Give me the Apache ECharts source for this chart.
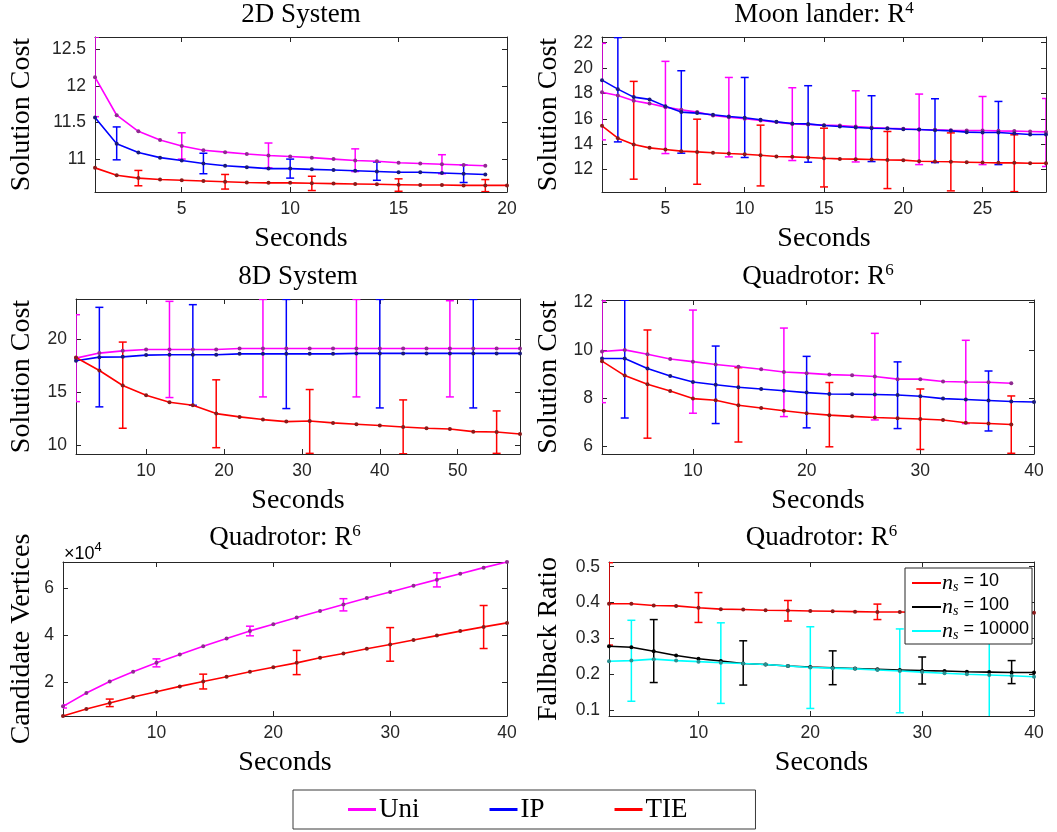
<!DOCTYPE html>
<html><head><meta charset="utf-8">
<script src="https://cdn.jsdelivr.net/npm/echarts@6/dist/echarts.min.js"></script>
<style>html,body{margin:0;padding:0;background:#fff}#c{width:1057px;height:832px}</style>
</head><body><div id="c"></div>
<script>
// ---------- 2D System ----------
const sec2D = [1,2,3,4,5,6,7,8,9,10,11,12,13,14,15,16,17,18,19,20];
const uni2D = [12.12,11.60,11.38,11.26,11.18,11.12,11.095,11.07,11.05,11.035,11.02,11.00,10.98,10.97,10.95,10.94,10.93,10.92,10.91];
const ip2D  = [11.57,11.21,11.09,11.02,10.98,10.94,10.91,10.89,10.87,10.87,10.86,10.85,10.84,10.83,10.82,10.82,10.81,10.80,10.79];
const tie2D = [10.88,10.78,10.74,10.72,10.71,10.70,10.69,10.68,10.675,10.675,10.67,10.665,10.66,10.655,10.65,10.645,10.645,10.64,10.64,10.64];
const uni2DErrX = [1,5,9,13,17],   uni2DLo = [11.58,11.00,10.88,10.83,10.80], uni2DHi = [12.67,11.36,11.22,11.14,11.06];
const ip2DErrX  = [2,6,10,14,18],  ip2DLo  = [10.99,10.80,10.74,10.71,10.68], ip2DHi  = [11.44,11.08,11.00,10.96,10.92];
const tie2DErrX = [3,7,11,15,19],  tie2DLo = [10.635,10.59,10.57,10.56,10.555], tie2DHi = [10.845,10.79,10.765,10.73,10.72];

// ---------- Moon lander ----------
const secML = [1,2,3,4,5,6,7,8,9,10,11,12,13,14,15,16,17,18,19,20,21,22,23,24,25,26,27,28,29];
const uniML = [18.10,17.84,17.42,17.20,16.92,16.71,16.53,16.26,16.13,16.00,15.87,15.74,15.60,15.55,15.50,15.47,15.39,15.32,15.26,15.21,15.16,15.13,15.10,15.08,15.08,15.05,15.03,15.00,14.97];
const ipML  = [19.05,18.34,17.71,17.53,17.00,16.53,16.45,16.32,16.18,16.08,15.92,15.76,15.63,15.60,15.47,15.39,15.32,15.26,15.24,15.18,15.16,15.10,15.05,14.95,14.92,14.92,14.84,14.76,14.76];
const tieML = [15.45,14.47,13.97,13.71,13.58,13.45,13.39,13.32,13.26,13.21,13.13,13.03,13.00,12.95,12.89,12.84,12.82,12.79,12.76,12.74,12.66,12.63,12.61,12.58,12.55,12.53,12.53,12.50,12.50];
const uniMLErrX = [1,5,9,13,17,21,25,29],  uniMLLo = [14.34,13.26,13.00,12.71,12.60,12.39,12.39,12.24], uniMLHi = [21.95,20.53,19.26,18.45,18.21,17.95,17.76,17.60];
const ipMLErrX  = [2,6,10,14,18,22,26],    ipMLLo  = [14.18,13.29,12.95,12.58,12.63,12.55,12.39],       ipMLHi  = [22.40,19.79,19.26,18.61,17.82,17.58,17.37];
const tieMLErrX = [3,7,11,15,19,23,27],    tieMLLo = [11.24,10.84,10.71,10.63,10.50,10.32,10.26],       tieMLHi = [18.95,15.97,15.50,15.26,15.00,14.89,14.74];

// ---------- 8D System ----------
const sec8D = [1,4,7,10,13,16,19,22,25,28,31,34,37,40,43,46,49,52,55,58];
const uni8D = [18.19,18.66,18.87,19.00,19.00,19.00,19.00,19.09,19.09,19.09,19.09,19.09,19.09,19.09,19.09,19.09,19.09,19.09,19.09,19.09];
const ip8D  = [17.94,18.28,18.31,18.47,18.50,18.50,18.50,18.59,18.59,18.59,18.59,18.59,18.63,18.63,18.63,18.63,18.63,18.63,18.63,18.63];
const tie8D = [18.25,17.03,15.63,14.72,14.06,13.78,13.00,12.69,12.44,12.25,12.31,12.13,12.00,11.88,11.75,11.63,11.56,11.31,11.28,11.09];
const uni8DErrX = [1,13,25,37,49],  uni8DLo = [14.12,14.50,14.56,14.56,14.56], uni8DHi = [22.25,23.50,23.68,23.68,23.56];
const ip8DErrX  = [4,16,28,40,52],  ip8DLo  = [13.63,13.78,13.47,13.53,13.53], ip8DHi  = [22.94,23.19,23.68,23.68,23.68];
const tie8DErrX = [7,19,31,43,55],  tie8DLo = [11.63,9.81,9.28,9.24,9.28],     tie8DHi = [19.69,16.16,15.25,14.28,13.25];

// ---------- Quadrotor cost ----------
const secQ  = [2,4,6,8,10,12,14,16,18,20,22,24,26,28,30,32,34,36,38,40];
const uniQ  = [9.96,10.03,9.85,9.65,9.54,9.42,9.33,9.22,9.11,9.06,9.00,8.97,8.92,8.81,8.81,8.71,8.69,8.68,8.64];
const ipQ   = [9.67,9.67,9.25,8.94,8.69,8.58,8.47,8.40,8.33,8.25,8.19,8.18,8.17,8.15,8.10,8.00,7.96,7.92,7.88,7.86];
const tieQ  = [9.56,8.96,8.60,8.32,8.00,7.93,7.72,7.61,7.49,7.39,7.31,7.26,7.21,7.18,7.15,7.11,6.99,6.96,6.92];
const uniQErrX = [2,10,18,26,34],  uniQLo = [7.83,7.39,7.25,7.11,6.96], uniQHi = [12.07,11.69,10.94,10.72,10.43];
const ipQErrX  = [4,12,20,28,36],  ipQLo  = [7.19,6.96,6.78,6.75,6.65], ipQHi  = [12.10,10.19,9.76,9.53,9.15];
const tieQErrX = [6,14,22,30,38],  tieQLo = [6.35,6.19,5.99,5.88,5.72], tieQHi = [10.86,9.29,8.67,8.40,8.11];

// ---------- Quadrotor candidate vertices ----------
const secV  = [2,4,6,8,10,12,14,16,18,20,22,24,26,28,30,32,34,36,38,40];
const uniV  = [9800,15500,20400,24500,28300,31900,35400,38700,41900,44700,47600,50400,53100,55900,58400,61100,63700,66200,68800,71200];
const tieV  = [5700,8700,11200,13800,16000,18300,20400,22400,24500,26400,28300,30500,32300,34300,36100,38000,39900,41800,43600,45300];
const uniVErrX = [2,10,18,26,34], uniVLo = [9100,26600,39800,50400,60600], uniVHi = [10500,30000,43900,55600,66600];
const tieVErrX = [6,14,22,30,38], tieVLo = [9700,17200,23300,29000,34400], tieVHi = [12900,23500,33600,43300,52700];

// ---------- Quadrotor fallback ratio ----------
const secF   = [2,4,6,8,10,12,14,16,18,20,22,24,26,28,30,32,34,36,38,40];
const fb10   = [0.397,0.397,0.392,0.391,0.386,0.382,0.381,0.379,0.378,0.377,0.376,0.375,0.374,0.374,0.373,0.373,0.372,0.372,0.372,0.372];
const fb100  = [0.279,0.276,0.265,0.253,0.244,0.238,0.231,0.228,0.224,0.221,0.219,0.217,0.215,0.213,0.211,0.210,0.208,0.207,0.206,0.206];
const fb10000= [0.237,0.239,0.243,0.239,0.236,0.233,0.231,0.228,0.224,0.220,0.218,0.216,0.213,0.210,0.207,0.204,0.201,0.199,0.197,0.194];
const fb10ErrX = [2,10,18,26,34],    fb10Lo = [0.282,0.345,0.349,0.353,0.352],    fb10Hi = [0.511,0.428,0.406,0.396,0.392];
const fb100ErrX = [6,14,22,30,38],   fb100Lo = [0.178,0.171,0.172,0.174,0.175],   fb100Hi = [0.353,0.294,0.266,0.249,0.239];
const fb10000ErrX = [4,12,20,28,36], fb10000Lo = [0.126,0.120,0.106,0.094,0.080], fb10000Hi = [0.351,0.344,0.333,0.327,0.320];

// ---------- labels ----------
const legendNames = ['Uni','IP','TIE'];
const nsNames = ['10','100','10000'];

// ---------- styling ----------
const C = {uni:'#ff00ff', ip:'#0000ff', tie:'#ff0000', k:'#000000', cy:'#00ffff'};
const DOT = {uni:'#8f2a8f', ip:'#1a1a7a', tie:'#8a1a1a', k:'#000000', cy:'#2a8f8f'};
const SERIF = '"Liberation Serif", "Times New Roman", serif';
const SANS = '"Liberation Sans", Arial, Helvetica, sans-serif';
const AX = '#262626';

function S(name, xs, ys, key, ex, lo, hi){ return {name, xs, ys, key, ex, lo, hi}; }

const panels = [
  {grid:{left:95,top:37,width:412,height:155}, title:'2D System', tTop:0,
   xMin:1,xMax:20,xInt:5, yMin:10.55,yMax:12.67,yInt:0.5, yName:'Solution Cost', yGap:59,
   series:[S('Uni',sec2D,uni2D,'uni',uni2DErrX,uni2DLo,uni2DHi), S('IP',sec2D,ip2D,'ip',ip2DErrX,ip2DLo,ip2DHi), S('TIE',sec2D,tie2D,'tie',tie2DErrX,tie2DLo,tie2DHi)]},
  {grid:{left:602,top:37,width:444,height:155}, title:'Moon lander: R', sup:'4', tTop:0,
   xMin:1,xMax:29,xInt:5, yMin:10.23,yMax:22.45,yInt:2, yName:'Solution Cost', yGap:39,
   series:[S('Uni',secML,uniML,'uni',uniMLErrX,uniMLLo,uniMLHi), S('IP',secML,ipML,'ip',ipMLErrX,ipMLLo,ipMLHi), S('TIE',secML,tieML,'tie',tieMLErrX,tieMLLo,tieMLHi)]},
  {grid:{left:76,top:299,width:444,height:155}, title:'8D System', tTop:262,
   xMin:1,xMax:58,xInt:10, yMin:9.22,yMax:23.72,yInt:5, yName:'Solution Cost', yGap:40,
   series:[S('Uni',sec8D,uni8D,'uni',uni8DErrX,uni8DLo,uni8DHi), S('IP',sec8D,ip8D,'ip',ip8DErrX,ip8DLo,ip8DHi), S('TIE',sec8D,tie8D,'tie',tie8DErrX,tie8DLo,tie8DHi)]},
  {grid:{left:602,top:300,width:432,height:154}, title:'Quadrotor: R', sup:'6', tTop:262,
   xMin:2,xMax:40,xInt:10, yMin:5.69,yMax:12.11,yInt:2, yName:'Solution Cost', yGap:39,
   series:[S('Uni',secQ,uniQ,'uni',uniQErrX,uniQLo,uniQHi), S('IP',secQ,ipQ,'ip',ipQErrX,ipQLo,ipQHi), S('TIE',secQ,tieQ,'tie',tieQErrX,tieQLo,tieQHi)]},
  {grid:{left:63,top:562,width:444,height:154}, title:'Quadrotor: R', sup:'6', tTop:523,
   xMin:2,xMax:40,xInt:10, yMin:5700,yMax:71200,yInt:20000, yName:'Candidate Vertices', yGap:27, yScale:1e4,
   series:[S('Uni',secV,uniV,'uni',uniVErrX,uniVLo,uniVHi), S('TIE',secV,tieV,'tie',tieVErrX,tieVLo,tieVHi)]},
  {grid:{left:609,top:562,width:425,height:154}, title:'Quadrotor: R', sup:'6', tTop:523,
   xMin:2,xMax:40,xInt:10, yMin:0.085,yMax:0.513,yInt:0.1, yName:'Fallback Ratio', yGap:46,
   series:[S('ns10',secF,fb10,'tie',fb10ErrX,fb10Lo,fb10Hi), S('ns100',secF,fb100,'k',fb100ErrX,fb100Lo,fb100Hi), S('ns10000',secF,fb10000,'cy',fb10000ErrX,fb10000Lo,fb10000Hi)]}
];

function isMul(v, step){ const r = v/step; return Math.abs(r-Math.round(r)) < 1e-6; }

function errRender(color){
  return function(params, api){
    const x = api.value(0), lo = api.value(1), hi = api.value(2);
    const a = api.coord([x, lo]), b = api.coord([x, hi]);
    const w = 4;
    const st = {stroke:color, lineWidth:1.5, fill:null};
    return {type:'group', children:[
      {type:'line', shape:{x1:a[0],y1:a[1],x2:b[0],y2:b[1]}, style:st},
      {type:'line', shape:{x1:a[0]-w,y1:a[1],x2:a[0]+w,y2:a[1]}, style:st},
      {type:'line', shape:{x1:b[0]-w,y1:b[1],x2:b[0]+w,y2:b[1]}, style:st}
    ]};
  };
}

const grids=[], xAxes=[], yAxes=[], series=[], titles=[];
const titleRich = {
  t:{fontFamily:SERIF, fontSize:27, color:'#000', lineHeight:30, verticalAlign:'middle'},
  sup:{fontFamily:SERIF, fontSize:17, color:'#000', lineHeight:17, verticalAlign:'top'}
};

panels.forEach((p, i) => {
  grids.push(Object.assign({outerBoundsMode:'none', containLabel:false}, p.grid));
  const cx = p.grid.left + p.grid.width/2;
  titles.push({
    text: p.sup ? '{t|'+p.title+'}{sup|'+p.sup+'}' : '{t|'+p.title+'}',
    left: cx, top: p.tTop, textAlign:'center', padding:0,
    textStyle:{rich:titleRich, fontFamily:SERIF, fontSize:27, fontWeight:'normal', color:'#000'}
  });
  const common = {
    type:'value', gridIndex:i, splitLine:{show:false},
    axisLine:{show:true, onZero:false, lineStyle:{color:AX, width:1}},
    axisTick:{show:true, inside:true, length:5, lineStyle:{color:AX, width:1}},
    minorTick:{show:false}
  };
  const xBase = Object.assign({}, common, {min:p.xMin, max:p.xMax, minInterval:p.xInt, maxInterval:p.xInt});
  const yBase = Object.assign({}, common, {min:p.yMin, max:p.yMax, minInterval:p.yInt, maxInterval:p.yInt});
  xAxes.push(Object.assign({}, xBase, {
    position:'bottom',
    name:'Seconds', nameLocation:'middle', nameGap:33,
    nameTextStyle:{fontFamily:SERIF, fontSize:28, color:'#000'},
    axisLabel:{show:true, margin:8, fontFamily:SANS, fontSize:17.5, color:AX,
      showMinLabel:isMul(p.xMin,p.xInt), showMaxLabel:isMul(p.xMax,p.xInt)}
  }));
  xAxes.push(Object.assign({}, xBase, {position:'top', axisLabel:{show:false}}));
  yAxes.push(Object.assign({}, yBase, {
    position:'left',
    name:p.yName, nameLocation:'middle', nameGap:p.yGap, nameRotate:90,
    nameTextStyle:{fontFamily:SERIF, fontSize:28, color:'#000'},
    axisLabel:{show:true, margin:9, fontFamily:SANS, fontSize:17.5, color:AX,
      showMinLabel:isMul(p.yMin,p.yInt), showMaxLabel:isMul(p.yMax,p.yInt),
      formatter: p.yScale ? (v => String(Math.round(v/p.yScale*100)/100)) : null}
  }));
  yAxes.push(Object.assign({}, yBase, {position:'right', axisLabel:{show:false}}));

  p.series.forEach(s => {
    series.push({
      type:'line', name:s.name, xAxisIndex:2*i, yAxisIndex:2*i,
      data: s.ys.map((v,k) => [s.xs[k], v]),
      symbol:'circle', symbolSize:4, showSymbol:true, clip:true,
      lineStyle:{color:C[s.key], width:1.6},
      itemStyle:{color:DOT[s.key]},
      emphasis:{disabled:true}, z:3
    });
    series.push({
      type:'custom', name:s.name+' err', xAxisIndex:2*i, yAxisIndex:2*i,
      data: s.ex.map((x,k) => [x, s.lo[k], s.hi[k]]),
      encode:{x:0, y:[1,2]}, clip:true,
      renderItem: errRender(C[s.key]), z:2
    });
  });
});

const chart = echarts.init(document.getElementById('c'), null, {renderer:'canvas'});
chart.setOption({
  animation:false,
  backgroundColor:'#fff',
  title: titles,
  grid: grids,
  xAxis: xAxes,
  yAxis: yAxes,
  series: series,
  legend: [
    {
      data: legendNames.map(n => ({name:n, itemStyle:{color:C[n==='Uni'?'uni':n==='IP'?'ip':'tie']}})),
      orient:'horizontal', left:293, top:790,
      padding:[6,68,6,55], itemGap:70, itemWidth:28, itemHeight:3, icon:'rect',
      borderColor:'#3a3a3a', borderWidth:1, backgroundColor:'#fff',
      textStyle:{fontFamily:SERIF, fontSize:27, color:'#000', padding:[0,0,0,-2]},
      selectedMode:false
    },
    {
      data: nsNames.map((n,k) => ({name:'ns'+n, itemStyle:{color:[C.tie,C.k,C.cy][k]}})),
      orient:'vertical', left:905, top:568,
      padding:[2,3,2,7], itemGap:0, itemWidth:29, itemHeight:2, icon:'rect',
      borderColor:AX, borderWidth:1, backgroundColor:'#fff',
      formatter: name => '{n|n}{s|s}{t| = ' + name.slice(2) + '}',
      textStyle:{fontFamily:SANS, fontSize:18, color:'#000', padding:[0,0,0,-4], rich:{
        n:{fontFamily:SERIF, fontStyle:'italic', fontSize:22, lineHeight:22, verticalAlign:'top', color:'#000'},
        s:{fontFamily:SERIF, fontStyle:'italic', fontSize:14, lineHeight:14, verticalAlign:'bottom', padding:[10,0,0,0], color:'#000'},
        t:{fontFamily:SANS, fontSize:18, lineHeight:22, verticalAlign:'top', color:'#000'}
      }},
      selectedMode:false, z:10
    }
  ],
  graphic:[{
    type:'text', left:64, top:541,
    style:{text:'{a|×10}{b|4}', rich:{
      a:{fontFamily:SANS, fontSize:18, color:AX, lineHeight:22, verticalAlign:'bottom'},
      b:{fontFamily:SANS, fontSize:13, color:AX, lineHeight:13, verticalAlign:'top'}
    }}
  }]
});
</script></body></html>
